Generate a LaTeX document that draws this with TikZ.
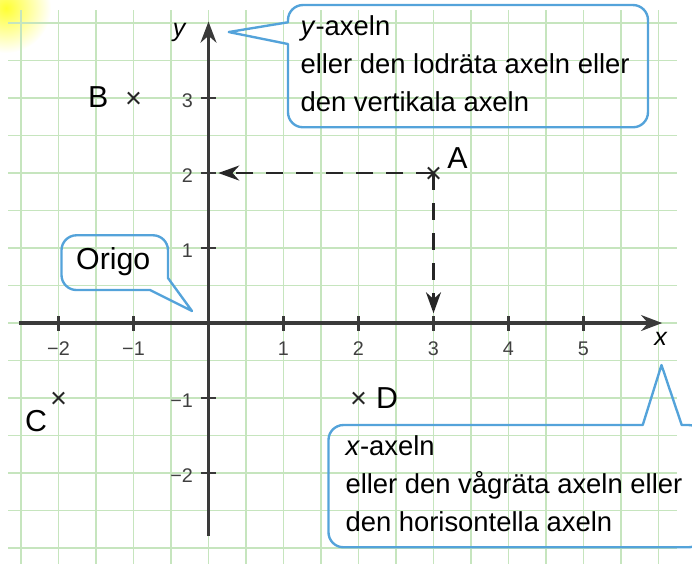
\documentclass[tikz,border=0pt]{standalone}
\usepackage{fontspec}
\setmainfont{Liberation Sans}
\usetikzlibrary{arrows.meta}
\definecolor{gridgreen}{RGB}{198,229,190}
\definecolor{bubbleblue}{RGB}{84,163,218}
\definecolor{axisgray}{RGB}{58,58,58}
\tikzset{
gridline/.style={draw=gridgreen,line width=0.55pt},
axisline/.style={draw=axisgray,line width=1.35pt,-{Stealth[length=2.8mm,width=2.1mm,inset=0.9mm]}},
tickmark/.style={draw=axisgray,line width=0.9pt},
ticklabel/.style={font=\fontsize{7.5}{9}\selectfont,text=black!75,inner sep=0pt},
ptlabel/.style={font=\fontsize{11.5}{13}\selectfont,inner sep=0pt},
axlabel/.style={font=\fontsize{9.5}{11}\selectfont\itshape,inner sep=0pt},
crossmark/.style={line width=0.75pt,black!85},
guide/.style={draw=black!85,line width=1pt,dash pattern=on 2.3mm off 1.7mm,-{Stealth[length=2.8mm,width=2mm,inset=0.9mm]}},
callout/.style={draw=bubbleblue,line width=0.9pt,line join=round},
bubbletext/.style={font=\fontsize{10.4}{14.4}\selectfont,align=left,inner sep=0pt,anchor=north west}
}
\newcommand{\ptcross}[1]{\draw[crossmark] (#1) +(-.075,-.075) -- +(.075,.075) (#1) +(-.075,.075) -- +(.075,-.075);}

\begin{document}
\begin{tikzpicture}
\useasboundingbox (-2.78,-3.213) rectangle (6.447,4.307);
\shade[inner color=yellow!80,outer color=white] (-2.7,4.2) circle (0.6);

% rutnät
\foreach \k in {-3,-2.5,...,4}
  \draw[gridline] (-2.67,\k) -- (6.25,\k);
\foreach \k in {-2.5,-2,...,6}
  \draw[gridline] (\k,-3.25) -- (\k,4.17);

% axlar
\coordinate (O) at (0,0);
\draw[axisline] (-2.53,0) -- (6.05,0);
\draw[axisline] (0,-2.84) -- (0,4.02);
\node[axlabel] (xlab) at (6.03,-0.21) {x};
\node[axlabel] (ylab) at (-0.39,3.87) {y};
\foreach \v/\t in {-2/−2,-1/−1,1/1,2/2,3/3,4/4,5/5}{
  \draw[tickmark] (\v,-0.1) -- (\v,0.1);
  \node[ticklabel] (tx\v) at (\v,-0.34) {\t};
}
\foreach \v/\t in {-2/−2,-1/−1,1/1,2/2,3/3}{
  \draw[tickmark] (-0.1,\v) -- (0.1,\v);
  \node[ticklabel,anchor=east] (ty\v) at (-0.2,\v-0.04) {\t};
}

% punkter
\coordinate (A) at (3,2);
\coordinate (B) at (-1,3);
\coordinate (C) at (-2,-1);
\coordinate (D) at (2,-1);
\coordinate (Ay) at (0.13,2);
\coordinate (Ax) at (3,0.13);
\draw[guide] (A) -- (Ay);
\draw[guide] (A) -- (Ax);
\ptcross{A} \ptcross{B} \ptcross{C} \ptcross{D}
\node[ptlabel] (labA) at (3.32,2.2) {A};
\node[ptlabel] (labB) at (-1.47,3.01) {B};
\node[ptlabel] (labC) at (-2.3,-1.31) {C};
\node[ptlabel] (labD) at (2.38,-1.0) {D};

% pratbubblor
\draw[callout] (1.06,4.01) [rounded corners=0.2cm] -- (1.06,4.24) -- (5.86,4.24) -- (5.86,2.61) -- (1.06,2.61) [sharp corners] -- (1.06,3.72) -- (0.27,3.88) -- cycle;
\node[bubbletext] (ytext) at (1.22,4.11) {\textit{y}-axeln\\eller den lodräta axeln eller\\den vertikala axeln};

\draw[callout] (-0.78,0.44) [rounded corners=0.2cm] -- (-1.96,0.44) -- (-1.96,1.17) -- (-0.54,1.17) [sharp corners] -- (-0.54,0.6) -- (-0.22,0.16) -- cycle;
\node[bubbletext,anchor=base,font=\fontsize{11.5}{13}\selectfont] (origotext) at (-1.27,0.71) {Origo};

\draw[callout] (5.79,-1.36) [rounded corners=0.2cm] -- (1.6,-1.36) -- (1.6,-2.99) -- (6.6,-2.99) -- (6.6,-1.36) [sharp corners] -- (6.31,-1.36) -- (6.04,-0.56) -- cycle;
\node[bubbletext] (xtext) at (1.82,-1.49) {\textit{x}-axeln\\eller den vågräta axeln eller\\den horisontella axeln};
\end{tikzpicture}
\end{document}
